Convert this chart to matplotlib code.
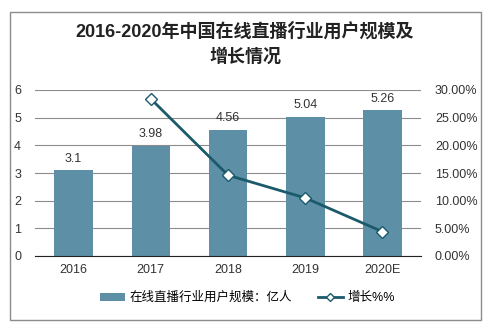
import numpy as np
import matplotlib.pyplot as plt
from matplotlib.patches import Rectangle
from matplotlib.ticker import FuncFormatter

plt.rcParams['font.family'] = ['Liberation Sans', 'Noto Sans CJK SC', 'DejaVu Sans']

years = ['2016', '2017', '2018', '2019', '2020E']
users = [3.1, 3.98, 4.56, 5.04, 5.26]
growth = [28.4, 14.6, 10.5, 4.4]  # %, ab 2017

bar_color = '#5d8fa6'
line_color = '#1b5a6b'

fig = plt.figure(figsize=(4.98, 3.29), dpi=100)
# Rahmen um die ganze Grafik
fig.patches.append(Rectangle((10 / 498, 1 - 320 / 329), 471 / 498, 308 / 329,
                             transform=fig.transFigure, fill=False,
                             edgecolor='#8c8c8c', linewidth=1))

ax = fig.add_axes([35 / 498, 1 - 256 / 329, 386 / 498, 166 / 329])
x = np.arange(len(years))
bars = ax.bar(x, users, width=0.5, color=bar_color, zorder=2,
              label='在线直播行业用户规模：亿人')
for xi, v in zip(x, users):
    ax.text(xi, v + 0.2, f'{v:g}', ha='center', va='bottom', fontsize=9, color='#333333')

ax.set_ylim(0, 6)
ax.set_xlim(-0.5, len(years) - 0.5)
ax.set_yticks(range(7))
ax.set_xticks(x)
ax.set_xticklabels(years)
ax.yaxis.grid(True, color='#8c8c8c', linewidth=0.8, zorder=0)
for s in ['top', 'right', 'left']:
    ax.spines[s].set_visible(False)
ax.spines['bottom'].set_color('#222222')
ax.tick_params(axis='both', length=0, labelsize=9, colors='#333333', pad=10)
ax.tick_params(axis='x', pad=6)

ax2 = ax.twinx()
ax2.plot(x[1:], growth, color=line_color, linewidth=2, marker='D', markersize=6,
         markerfacecolor='white', markeredgecolor=line_color, markeredgewidth=1,
         zorder=3, label='增长%%')
ax2.set_ylim(0, 30)
ax2.set_yticks(np.arange(0, 31, 5))
ax2.yaxis.set_major_formatter(FuncFormatter(lambda v, p: f'{v:.2f}%'))
for s in ['top', 'right', 'left', 'bottom']:
    ax2.spines[s].set_visible(False)
ax2.tick_params(axis='y', length=0, labelsize=9, colors='#333333', pad=10)

fig.text(0.492, 1 - 31 / 329, '2016-2020年中国在线直播行业用户规模及', ha='center', va='center',
         fontsize=13, fontweight='bold', color='#222222')
fig.text(0.492, 1 - 57 / 329, '增长情况', ha='center', va='center',
         fontsize=13, fontweight='bold', color='#222222')

h1, l1 = ax.get_legend_handles_labels()
h2, l2 = ax2.get_legend_handles_labels()
fig.legend(h1 + h2, l1 + l2, loc='center', bbox_to_anchor=(0.497, 1 - 298 / 329),
           ncol=2, frameon=False, fontsize=9, handlelength=2.0, handleheight=0.6,
           columnspacing=2.0, handletextpad=0.4, markerscale=0.7)

fig.savefig('out.png', dpi=100)
